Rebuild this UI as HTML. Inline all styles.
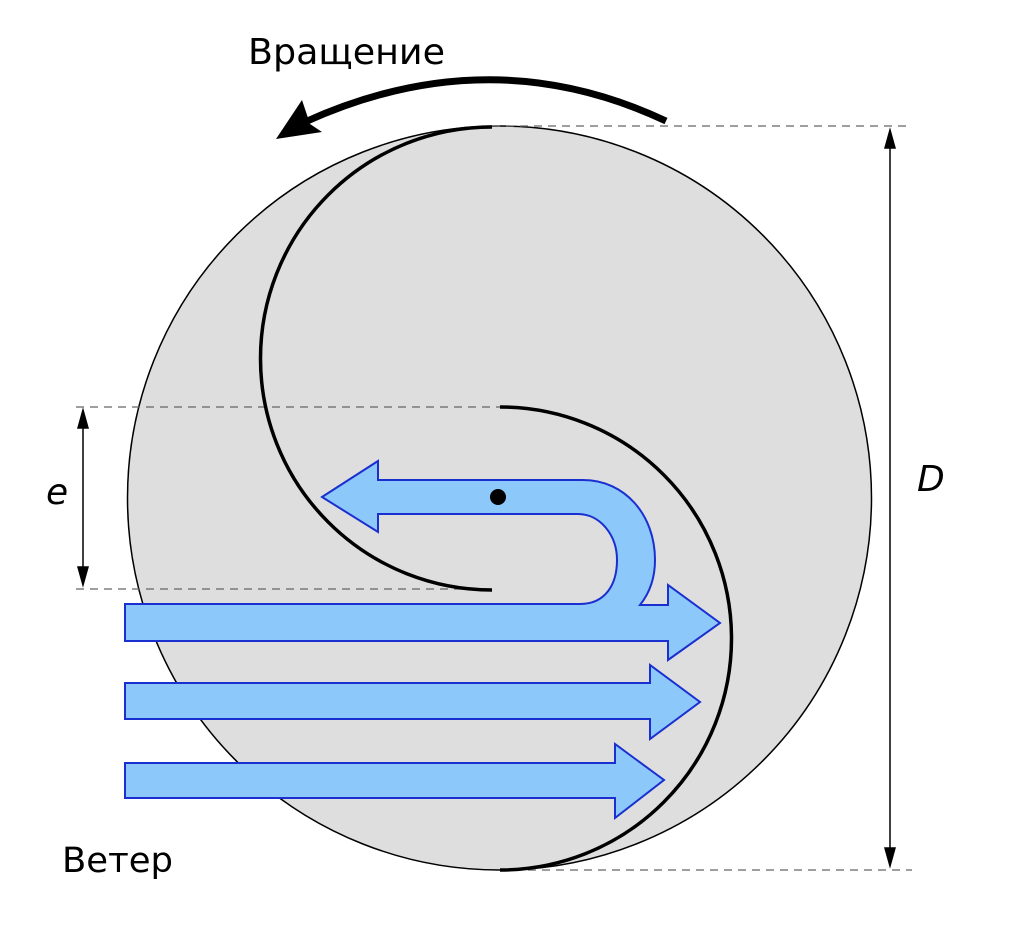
<!DOCTYPE html>
<html><head><meta charset="utf-8"><style>body{margin:0;background:#fff}svg{display:block}</style></head><body>
<svg width="1024" height="930" viewBox="0 0 1024 930" xmlns="http://www.w3.org/2000/svg" font-family="'DejaVu Sans','Liberation Sans',sans-serif">
<circle cx="499.5" cy="498" r="372" fill="#dedede" stroke="#000" stroke-width="1.5"/>
<g stroke="#666" stroke-width="1.3" stroke-dasharray="8,6" fill="none">
<line x1="492" y1="126" x2="912" y2="126"/>
<line x1="76" y1="407" x2="500" y2="407"/>
<line x1="76" y1="589" x2="490" y2="589"/>
<line x1="500" y1="870" x2="912" y2="870"/>
</g>
<path d="M492 127 A231 231 0 0 0 492 590" fill="none" stroke="#000" stroke-width="3.5"/>
<path d="M500 407 A231 231 0 0 1 500 870" fill="none" stroke="#000" stroke-width="3.5"/>
<g fill="#8cc8fa" stroke="#1a2fd0" stroke-width="2">
<path d="M322 497 L378 461 L378 480 L583 480 C625 480 655 515 655 560 C655 580 648 595 640 605 L668 605 L668 585 L720 623 L668 660 L668 641 L125 641 L125 604 L580 604 C605 604 617 585 617 560 C617 535 600 514 578 514 L378 514 L378 532 Z"/>
<path d="M125 683 L650 683 L650 665 L700 702 L650 739 L650 719 L125 719 Z"/>
<path d="M125 763 L615 763 L615 744 L664 780 L615 818 L615 798 L125 798 Z"/>
</g>
<circle cx="498" cy="497" r="8" fill="#000"/>
<path d="M666 121 Q490 38 305 122" fill="none" stroke="#000" stroke-width="7"/>
<path d="M276 139 L302 100 L310 124 L322 132 Z" fill="#000"/>
<g stroke="#000" stroke-width="1.5" fill="#000">
<line x1="890" y1="140" x2="890" y2="856"/>
<path d="M890 130 L885 148 L895 148 Z"/><path d="M890 866 L885 848 L895 848 Z"/>
<line x1="83" y1="420" x2="83" y2="575"/>
<path d="M83 410 L78 428 L88 428 Z"/><path d="M83 585 L78 567 L88 567 Z"/>
</g>
<text x="248" y="64" font-size="36" textLength="197" lengthAdjust="spacingAndGlyphs">Вращение</text>
<text x="46" y="504" font-size="36" font-style="italic">e</text>
<text x="917" y="491" font-size="36" font-style="italic">D</text>
<text x="62" y="872" font-size="35" textLength="111" lengthAdjust="spacingAndGlyphs">Ветер</text>
</svg>
</body></html>
